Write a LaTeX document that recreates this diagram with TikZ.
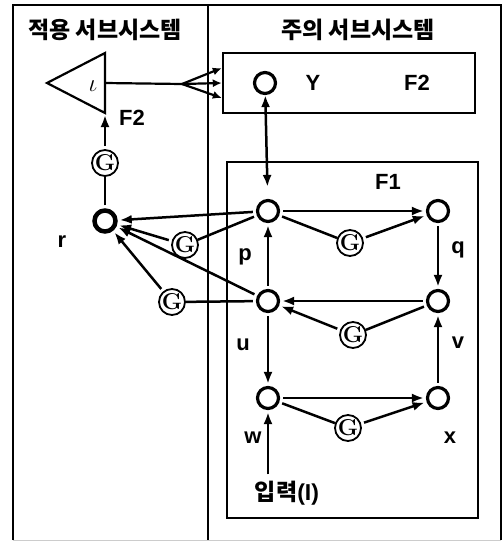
\documentclass[tikz,border=0pt]{standalone}
\usepackage{fontspec}
\setsansfont{Liberation Sans}
\newfontfamily\kr{Noto Sans CJK KR}
\usetikzlibrary{positioning, arrows.meta, calc}

\begin{document}
\begin{tikzpicture}[
  x=1pt, y=-1pt,
  unit/.style={circle, draw, line width=3.2pt, minimum size=21pt, inner sep=0pt},
  gain/.style={circle, draw, line width=1.8pt, minimum size=22pt, inner sep=0pt,
               font=\bfseries\fontsize{23}{23}\selectfont},
  lab/.style={font=\sffamily\bfseries\fontsize{22}{22}\selectfont},
  ttl/.style={font=\kr\bfseries\fontsize{23}{23}\selectfont},
  ar/.style={-{Latex[length=12pt,width=9pt]}, line width=2.5pt,
             shorten <=3pt, shorten >=2pt},
  dar/.style={{Latex[length=12pt,width=9pt]}-{Latex[length=12pt,width=9pt]},
              line width=2.5pt},
  fanar/.style={-{Latex[length=9pt,width=8pt]}, line width=2.2pt},
  ln/.style={line width=2.5pt, shorten <=3pt},
  box/.style={draw, line width=2.4pt},
]
\useasboundingbox (0,0) rectangle (503,541);

% outer frame and divider
\draw[line width=2.5pt] (13,540) -- (13,5) -- (501,5) -- (501,540);
\draw[gray!40, line width=1pt] (13,540) -- (501,540);
\draw[line width=2.5pt] (208,5) -- (208,540);

\node[ttl] (tapp) at (105,30) {적용 서브시스템};
\node[ttl] (tatt) at (358,30) {주의 서브시스템};

% attention subsystem
\node[box, minimum width=252pt, minimum height=60pt] (ybox) at (349,83) {};
\node[box, minimum width=251pt, minimum height=356pt] (fbox) at (352.5,340) {};

\node[unit] (y) at (265,83) {};
\node[lab] (ylab) at (313,83) {Y};
\node[lab] (f2a) at (417,83) {F2};
\node[lab] (f1) at (388,182) {F1};

\node[unit] (p) at (268,211) {};
\node[unit] (q) at (438,211) {};
\node[unit] (u) at (268,301) {};
\node[unit] (v) at (438,301) {};
\node[unit] (w) at (268,398) {};
\node[unit] (x) at (438,398) {};

\node[gain] (gpq) at (350,243) {G};
\node[gain] (gvu) at (353,335) {G};
\node[gain] (gwx) at (348,428) {G};

\node[lab] (plab) at (245,257) {p};
\node[lab] (qlab) at (458,250) {q};
\node[lab] (ulab) at (243,345) {u};
\node[lab] (vlab) at (458,343) {v};
\node[lab] (wlab) at (253,438) {w};
\node[lab] (xlab) at (450,438) {x};
\node[font=\bfseries\fontsize{23}{23}\selectfont] (inp) at (287,493)
  {{\kr 입력}\sffamily(I)};

% orienting subsystem
\coordinate (tA) at (47,83);
\coordinate (tT) at (105,53);
\coordinate (tB) at (105,113);
\coordinate (tout) at (105,83);
\coordinate (fan) at (182,84);
\draw[line width=2.2pt] (tA) -- (tT) -- (tB) -- cycle;
\node[font=\fontsize{26}{26}\selectfont] (iota) at (93,86) {$\iota$};
\node[lab] (f2b) at (132,118) {F2};

\node[unit, line width=4.5pt] (r) at (105,221) {};
\node[lab] (rlab) at (62,242) {r};
\node[gain] (gf) at (105,163) {G};
\node[gain] (gpr) at (185,245) {G};
\node[gain] (gur) at (172,302) {G};

% connections inside F1
\draw[ar] (p) -- (q);
\draw[ln] (p) -- (gpq);
\draw[ar] (gpq) -- (q);
\draw[ar] (q) -- (v);
\draw[ar] (v) -- (u);
\draw[ln] (v) -- (gvu);
\draw[ar] (gvu) -- (u);
\draw[ar] (u) -- (p);
\draw[ar] (u) -- (w);
\draw[ar] (x) -- (v);
\draw[ar] (w) -- (x);
\draw[ln] (w) -- (gwx);
\draw[ar] (gwx) -- (x);
\draw[ar] (inp.north -| w) -- (w);
\draw[dar, shorten >=12pt] (y) -- (p);

% to and from the orienting subsystem
\draw[ar] (p) -- (r);
\draw[ln] (p) -- (gpr);
\draw[ar] (gpr) -- (r);
\draw[ar] (u) -- (r);
\draw[ln] (u) -- (gur);
\draw[ar] (gur) -- (r);
\draw[ln] (r) -- (gf);
\draw[ar] (gf) -- (tB);
\draw[line width=2.2pt] (tout) -- (fan);
\draw[fanar] (fan) -- ([yshift=15pt]ybox.west);
\draw[fanar] (fan) -- (ybox.west);
\draw[fanar] (fan) -- ([yshift=-15pt]ybox.west);
\end{tikzpicture}
\end{document}
